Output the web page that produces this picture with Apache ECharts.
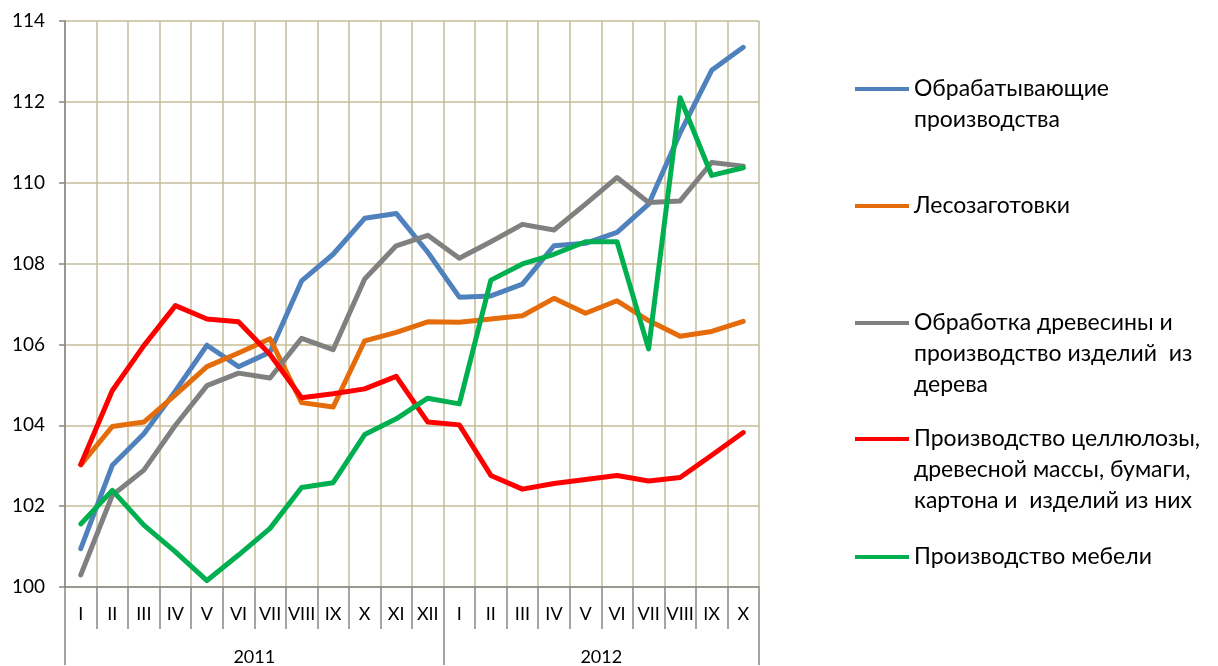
<!DOCTYPE html>
<html>
<head>
<meta charset="utf-8">
<script src="https://cdn.jsdelivr.net/npm/echarts@6/dist/echarts.min.js"></script>
<style>
  html, body { margin: 0; padding: 0; background: #fff; }
  #chart { width: 1218px; height: 666px; }
</style>
</head>
<body>
<div id="chart"></div>
<script>
const months = ['I','II','III','IV','V','VI','VII','VIII','IX','X','XI','XII',
                'I','II','III','IV','V','VI','VII','VIII','IX','X'];
const years = ['2011', '2012'];

const manufacturing = [100.95,103.01,103.79,104.85,105.98,105.45,105.81,107.57,108.23,109.12,109.24,108.28,
                       107.17,107.2,107.49,108.44,108.5,108.77,109.47,111.23,112.78,113.35];
const logging = [103.02,103.97,104.08,104.75,105.45,105.79,106.14,104.56,104.45,106.09,106.3,106.56,
                 106.55,106.63,106.71,107.14,106.77,107.08,106.59,106.2,106.32,106.57];
const woodworking = [100.3,102.27,102.89,104.0,104.98,105.29,105.17,106.15,105.87,107.62,108.44,108.7,
                     108.13,108.54,108.97,108.83,109.47,110.13,109.51,109.55,110.5,110.41];
const pulpPaper = [103.03,104.86,105.97,106.96,106.63,106.56,105.75,104.68,104.78,104.9,105.21,104.08,
                   104.01,102.76,102.42,102.56,102.66,102.76,102.62,102.71,103.26,103.82];
const furniture = [101.56,102.39,101.53,100.87,100.16,100.79,101.45,102.46,102.58,103.77,104.16,104.67,
                   104.53,107.59,107.99,108.23,108.54,108.54,105.89,112.1,110.18,110.37];

const names = [
  'Обрабатывающие\nпроизводства',
  'Лесозаготовки',
  'Обработка древесины и\nпроизводство изделий  из\nдерева',
  'Производство целлюлозы,\nдревесной массы, бумаги,\nкартона и  изделий из них',
  'Производство мебели'
];
const values = [manufacturing, logging, woodworking, pulpPaper, furniture];
const colors = ['#4F81BD', '#E46C0A', '#808080', '#FF0000', '#00B050'];

// year axis: 23 points sitting on month boundaries
const yearSlots = [];
for (let i = 0; i <= months.length; i++) yearSlots.push(i === 6 ? years[0] : i === 17 ? years[1] : '');

const FONT = "Lato, 'Open Sans', sans-serif";
const LH = 31;
const legendIconY = [89, 206, 323, 439, 557];

const chart = echarts.init(document.getElementById('chart'), null, { renderer: 'canvas' });

// icon sits at the middle of the text block, so blank lines in front
// bring it level with the first line of text
const legends = names.map((name, i) => {
  const n = name.split('\n').length;
  return {
    data: [name],
    left: 855,
    top: legendIconY[i] - (2 * n - 1) * LH / 2,
    padding: 0,
    icon: 'rect',
    itemWidth: 54,
    itemHeight: 4,
    selectedMode: false,
    formatter: (nm) => '\n'.repeat(n - 1) + nm,
    textStyle: {
      fontFamily: FONT,
      fontSize: 23,
      color: '#000',
      lineHeight: LH
    }
  };
});

chart.setOption({
  animation: false,
  backgroundColor: '#fff',
  legend: legends,
  grid: { left: 65, top: 21, width: 694, height: 567.5, containLabel: false },
  xAxis: [
    {
      type: 'category',
      data: months,
      boundaryGap: true,
      axisLine: { lineStyle: { color: '#868686', width: 1.5 } },
      axisTick: { show: true, interval: 0, length: 42, lineStyle: { color: '#868686', width: 1.5 } },
      axisLabel: { interval: 0, margin: 18, fontFamily: FONT, fontSize: 18, color: '#000' },
      splitLine: { show: true, interval: 0, lineStyle: { color: '#C4BD97', width: 1.5 } }
    },
    {
      type: 'category',
      data: yearSlots,
      boundaryGap: false,
      position: 'bottom',
      axisLine: { show: false },
      axisTick: {
        show: true, length: 78,
        interval: (idx) => idx === 0 || idx === 12 || idx === months.length,
        lineStyle: { color: '#868686', width: 1.5 }
      },
      axisLabel: {
        interval: (idx) => idx === 6 || idx === 17,
        margin: 61, fontFamily: FONT, fontSize: 18, color: '#000'
      },
      splitLine: { show: false }
    }
  ],
  yAxis: {
    type: 'value',
    min: 100,
    max: 114,
    interval: 2,
    axisLine: { show: true, lineStyle: { color: '#868686', width: 1.5 } },
    axisTick: { show: true, length: 6, lineStyle: { color: '#868686', width: 1.5 } },
    axisLabel: { margin: 20, fontFamily: FONT, fontSize: 19, color: '#000' },
    splitLine: { show: true, lineStyle: { color: '#C4BD97', width: 1.5 } }
  },
  series: names.map((name, i) => ({
    name: name,
    type: 'line',
    data: values[i],
    xAxisIndex: 0,
    showSymbol: false,
    symbol: 'none',
    color: colors[i],
    lineStyle: { color: colors[i], width: 5, cap: 'round', join: 'round' },
    z: 3
  }))
});
</script>
</body>
</html>
